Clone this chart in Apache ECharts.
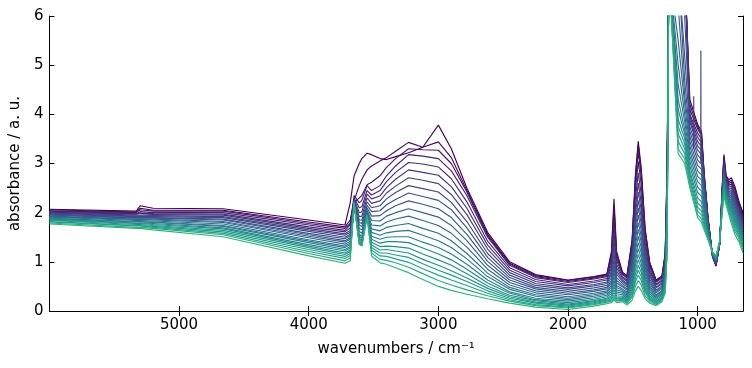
<!DOCTYPE html>
<html><head><meta charset="utf-8">
<script src="https://cdn.jsdelivr.net/npm/echarts@6/dist/echarts.min.js"></script>
<style>html,body{margin:0;padding:0;background:#fff}#c{width:752px;height:368px}</style>
</head><body><div id="c"></div>
<script>
const wavenumbers = [6000,5330,5300,5200,4660,4000,3720,
 3680,3650,3610,3590,3550,3515,3450,3400,3330,3230,3120,3000,2900,2780,2620,2450,2250,2000,
 1800,1700,1665,1645,1625,1580,1545,1505,1480,1458,1435,1405,1370,1320,1275,1250,1235,1222,
 1150,1100,1060,1000,970,950,920,885,858,830,810,797,780,758,740,712,680,650];

const absorbance = [
[2.07,2.03,2.14,2.09,2.08,1.85,1.75, 2.2,2.75,3.0,3.1,3.21,3.18,3.10,3.08,3.14,3.22,3.33,3.78,3.3,2.5,1.6,1.0,.74,.63, .70,.75,1.21,2.28,1.21,.79,.72,1.46,2.77,3.45,2.90,1.68,.99,.63,.71,1.18,3.0,7, 7,7,4.3,3.8,3.65,2.8,1.9,1.10,.91,1.35,2.55,3.18,2.75,2.67,2.71,2.53,2.22,2.0],
[2.06,2.01,2.09,2.05,2.05,1.81,1.71, 1.85,2.25,2.55,2.68,2.87,2.95,3.05,3.12,3.25,3.43,3.33,3.44,3.12,2.45,1.56,.97,.72,.62, .69,.74,1.16,2.14,1.16,.78,.71,1.43,2.71,3.38,2.85,1.64,.98,.62,.70,1.16,2.91,7, 7,7,4.2,3.75,3.6,2.8,1.9,1.11,.92,1.35,2.52,3.14,2.72,2.63,2.66,2.48,2.18,1.96],
[2.04,2.00,2.06,2.03,2.03,1.78,1.68, 1.78,2.2,2.3,2.35,2.57,2.62,2.75,2.92,3.1,3.3,3.28,3.27,3.0,2.42,1.53,.95,.70,.60, .67,.72,1.09,1.96,1.09,.76,.69,1.38,2.60,3.24,2.73,1.58,.95,.61,.69,1.13,2.83,7, 7,7,4.1,3.7,3.56,2.78,1.89,1.11,.93,1.36,2.50,3.10,2.69,2.60,2.62,2.44,2.14,1.92],
[2.03,1.98,2.02,2.00,2.00,1.75,1.64, 1.75,2.35,2.2,2.25,2.55,2.45,2.55,2.75,2.95,3.18,3.15,3.10,2.85,2.35,1.50,.93,.68,.58, .65,.70,1.03,1.79,1.03,.74,.67,1.31,2.45,3.04,2.57,1.50,.91,.59,.67,1.10,2.75,7, 7,7,4.0,3.62,3.49,2.74,1.88,1.11,.94,1.36,2.47,3.06,2.67,2.57,2.58,2.39,2.11,1.89],
[2.01,1.97,1.99,1.98,1.97,1.71,1.61, 1.69,2.3,2.1,2.12,2.45,2.36,2.45,2.63,2.82,3.02,2.99,2.93,2.69,2.22,1.42,.88,.64,.54, .61,.66,.95,1.62,.95,.70,.63,1.22,2.27,2.81,2.37,1.39,.85,.55,.63,1.04,2.67,7, 7,7,3.95,3.54,3.42,2.7,1.86,1.12,.95,1.36,2.45,3.02,2.64,2.54,2.54,2.35,2.07,1.85],
[2.00,1.95,1.95,1.96,1.95,1.68,1.57, 1.64,2.28,2.0,2.02,2.38,2.28,2.34,2.51,2.68,2.87,2.82,2.76,2.53,2.09,1.34,.83,.60,.51, .58,.63,.88,1.46,.88,.67,.60,1.14,2.10,2.6,2.20,1.30,.80,.53,.61,1.01,2.59,7, 7,7,3.9,3.45,3.34,2.65,1.84,1.12,.96,1.37,2.42,2.98,2.61,2.50,2.50,2.30,2.03,1.81],
[1.99,1.93,1.93,1.94,1.92,1.65,1.54, 1.60,2.25,1.92,1.93,2.3,2.19,2.24,2.40,2.54,2.71,2.66,2.59,2.37,1.96,1.26,.78,.56,.47, .54,.59,.81,1.32,.81,.63,.56,1.06,1.96,2.42,2.05,1.21,.75,.49,.57,.96,2.51,7, 7,7,3.85,3.36,3.26,2.6,1.82,1.13,.97,1.37,2.40,2.95,2.59,2.47,2.45,2.26,1.99,1.77],
[1.97,1.92,1.92,1.92,1.90,1.62,1.50, 1.56,2.22,1.85,1.85,2.22,2.10,2.14,2.28,2.41,2.55,2.49,2.42,2.21,1.82,1.17,.73,.52,.44, .51,.56,.75,1.18,.75,.60,.53,.99,1.82,2.25,1.91,1.13,.70,.47,.55,.92,2.42,7, 7,6,3.75,3.27,3.18,2.55,1.80,1.13,.98,1.37,2.37,2.91,2.56,2.44,2.41,2.22,1.96,1.74],
[1.96,1.90,1.90,1.90,1.87,1.58,1.47, 1.53,2.2,1.8,1.78,2.15,2.02,2.04,2.16,2.27,2.40,2.33,2.25,2.06,1.69,1.09,.68,.48,.40, .47,.52,.68,1.05,.68,.56,.49,.92,1.70,2.1,1.78,1.05,.65,.43,.51,.87,2.34,7, 7,5.2,3.65,3.17,3.08,2.5,1.77,1.14,.99,1.38,2.35,2.87,2.53,2.41,2.37,2.17,1.92,1.70],
[1.95,1.89,1.89,1.89,1.85,1.55,1.43, 1.49,2.18,1.75,1.72,2.1,1.93,1.94,2.04,2.14,2.24,2.17,2.08,1.90,1.56,1.01,.63,.45,.36, .43,.48,.62,.95,.62,.52,.45,.86,1.58,1.95,1.65,.98,.60,.40,.48,.83,2.26,7, 7,4.7,3.55,3.07,2.98,2.44,1.74,1.14,1.0,1.38,2.32,2.83,2.50,2.37,2.33,2.13,1.88,1.66],
[1.93,1.87,1.87,1.87,1.82,1.52,1.40, 1.46,2.16,1.68,1.65,2.05,1.84,1.83,1.93,2.00,2.08,2.00,1.91,1.74,1.43,.93,.58,.41,.33, .40,.45,.57,.86,.57,.49,.42,.79,1.46,1.8,1.52,.90,.56,.37,.45,.78,2.18,7, 6.2,4.4,3.45,2.96,2.88,2.38,1.71,1.15,1.01,1.38,2.30,2.79,2.48,2.34,2.29,2.08,1.85,1.63],
[1.92,1.86,1.86,1.85,1.80,1.49,1.36, 1.42,2.15,1.62,1.58,2.02,1.75,1.73,1.81,1.87,1.93,1.84,1.74,1.58,1.30,.85,.53,.37,.29, .36,.41,.52,.78,.52,.45,.38,.73,1.34,1.66,1.40,.83,.51,.33,.41,.73,2.10,7, 5.5,4.2,3.35,2.85,2.77,2.31,1.68,1.15,1.02,1.39,2.28,2.76,2.45,2.31,2.24,2.04,1.81,1.59],
[1.91,1.84,1.84,1.83,1.77,1.45,1.32, 1.38,2.14,1.56,1.52,2.0,1.67,1.63,1.70,1.74,1.78,1.68,1.58,1.43,1.17,.77,.48,.33,.26, .33,.38,.48,.70,.48,.42,.35,.67,1.23,1.52,1.29,.76,.47,.31,.39,.70,2.02,7, 5.0,4.0,3.25,2.74,2.66,2.24,1.65,1.15,1.03,1.39,2.25,2.72,2.42,2.28,2.20,2.00,1.77,1.55],
[1.89,1.82,1.82,1.81,1.74,1.42,1.29, 1.35,2.14,1.52,1.48,1.98,1.60,1.54,1.59,1.62,1.64,1.54,1.43,1.29,1.06,.70,.44,.30,.23, .30,.35,.43,.62,.43,.39,.32,.61,1.12,1.39,1.18,.69,.43,.28,.36,.65,1.94,7, 4.6,3.85,3.15,2.63,2.55,2.17,1.62,1.16,1.04,1.39,2.23,2.68,2.40,2.25,2.16,1.95,1.74,1.52],
[1.88,1.81,1.81,1.80,1.72,1.39,1.25, 1.31,2.15,1.48,1.44,1.97,1.52,1.46,1.50,1.51,1.51,1.40,1.29,1.16,.95,.63,.39,.26,.20, .27,.32,.39,.55,.39,.36,.29,.55,1.03,1.27,1.07,.63,.39,.26,.34,.62,1.86,7, 4.3,3.7,3.05,2.52,2.44,2.10,1.59,1.16,1.05,1.39,2.20,2.64,2.37,2.21,2.12,1.91,1.70,1.48],
[1.87,1.79,1.79,1.78,1.69,1.35,1.22, 1.28,2.16,1.45,1.41,1.96,1.46,1.38,1.41,1.41,1.39,1.28,1.16,1.04,.85,.57,.36,.23,.17, .24,.29,.35,.49,.35,.33,.26,.50,.93,1.15,.97,.57,.35,.23,.31,.58,1.78,7, 4.1,3.6,2.95,2.41,2.33,2.03,1.56,1.17,1.06,1.40,2.18,2.60,2.34,2.18,2.08,1.86,1.66,1.44],
[1.85,1.78,1.78,1.76,1.67,1.32,1.18, 1.24,2.17,1.42,1.38,1.95,1.40,1.31,1.32,1.31,1.28,1.16,1.04,.93,.76,.51,.32,.21,.14, .21,.26,.31,.43,.31,.30,.23,.45,.84,1.04,.88,.51,.31,.20,.28,.53,1.70,7, 3.9,3.5,2.85,2.30,2.22,1.96,1.54,1.17,1.07,1.40,2.15,2.56,2.31,2.15,2.04,1.82,1.63,1.41],
[1.84,1.76,1.76,1.74,1.64,1.29,1.15, 1.21,2.18,1.40,1.36,1.95,1.34,1.24,1.25,1.22,1.18,1.05,.93,.82,.67,.46,.29,.18,.12, .19,.24,.28,.37,.28,.28,.21,.40,.75,.93,.79,.46,.28,.18,.26,.50,1.61,7, 3.75,3.4,2.78,2.20,2.12,1.89,1.52,1.18,1.08,1.40,2.13,2.53,2.29,2.12,1.99,1.78,1.59,1.37],
[1.82,1.74,1.74,1.72,1.61,1.25,1.11, 1.17,2.19,1.38,1.35,1.94,1.29,1.18,1.18,1.14,1.09,.96,.83,.73,.60,.41,.26,.16,.10, .17,.22,.25,.32,.25,.26,.19,.36,.67,.83,.70,.41,.25,.17,.25,.47,1.52,7, 3.6,3.3,2.7,2.11,2.03,1.82,1.50,1.18,1.09,1.41,2.10,2.48,2.26,2.08,1.95,1.73,1.55,1.33],
[1.81,1.73,1.73,1.70,1.58,1.21,1.07, 1.13,2.2,1.37,1.34,1.94,1.24,1.12,1.11,1.06,.99,.86,.73,.63,.52,.36,.23,.13,.08, .15,.20,.22,.28,.22,.24,.17,.32,.59,.73,.62,.37,.23,.15,.23,.44,1.43,7, 3.45,3.2,2.64,2.03,1.95,1.76,1.48,1.19,1.10,1.41,2.07,2.44,2.23,2.04,1.90,1.68,1.51,1.29],
[1.79,1.70,1.70,1.68,1.55,1.17,1.02, 1.08,2.21,1.36,1.33,1.93,1.18,1.05,1.03,.98,.89,.76,.62,.53,.43,.31,.20,.11,.06, .13,.18,.20,.25,.20,.22,.15,.28,.50,.62,.53,.31,.20,.13,.21,.40,1.33,7, 3.3,3.1,2.57,1.96,1.87,1.70,1.46,1.19,1.11,1.42,2.04,2.39,2.19,2.0,1.85,1.62,1.46,1.24],
[1.77,1.68,1.68,1.65,1.51,1.12,.97, 1.02,2.22,1.35,1.32,1.93,1.12,.98,.95,.88,.78,.64,.50,.42,.34,.25,.16,.08,.03, .10,.15,.17,.22,.17,.19,.12,.22,.41,.50,.42,.25,.16,.11,.19,.36,1.2,7, 3.2,3.0,2.5,1.9,1.8,1.65,1.45,1.20,1.12,1.42,2.0,2.33,2.15,1.95,1.78,1.55,1.40,1.18]
];

const spikeWn1 = [1031,1030,1029], spikeVal1 = [3.3,4.37,3.3];
const spikeWn2 = [976,975,974], spikeVal2 = [3.0,5.3,3.0];
const riseWn = [1236,1231], riseVal = [1.0,7];
const xTicks = [5000,4000,3000,2000,1000];

const viridis = ['#440154','#482475','#414487','#355f8d','#2a788e','#21918c','#22a884','#44bf70','#7ad151','#bddf26','#fde725'];
function hex(c){return [parseInt(c.slice(1,3),16),parseInt(c.slice(3,5),16),parseInt(c.slice(5,7),16)];}
function cmap(t){
  const p=t*10, i=Math.min(9,Math.floor(p)), f=p-i;
  const a=hex(viridis[i]), b=hex(viridis[i+1]);
  return 'rgb('+a.map((v,j)=>Math.round(v+(b[j]-v)*f)).join(',')+')';
}
const N = absorbance.length;
function lineSeries(data,color){
  return {type:'line',showSymbol:false,silent:true,animation:false,data:data,
    lineStyle:{width:1.15,color:color}};
}
const series = [lineSeries(riseWn.map((w,i)=>[w,riseVal[i]]),cmap(0.8))];
absorbance.forEach((row,k)=>{
  series.push(lineSeries(row.map((v,i)=>[wavenumbers[i],v]), cmap(0.64*k/(N-1))));
  if(k===8){
    series.push(lineSeries(spikeWn1.map((w,i)=>[w,spikeVal1[i]]),cmap(0.2)));
    series.push(lineSeries(spikeWn2.map((w,i)=>[w,spikeVal2[i]]),cmap(0.22)));
  }
});

const font = 'DejaVu Sans';
const axisCommon = {
  min:650,max:6000,inverse:true,
  axisLine:{lineStyle:{color:'#000',width:1}},
  splitLine:{show:false}
};
const chart = echarts.init(document.getElementById('c'),null,{renderer:'canvas'});
chart.setOption({
  backgroundColor:'#fff',
  animation:false,
  grid:{left:49,right:9,top:16,bottom:57},
  xAxis:[
    Object.assign({type:'value',position:'bottom',
      name:'wavenumbers / cm\u207B\u00B9',nameLocation:'middle',nameGap:31,
      nameTextStyle:{fontFamily:font,fontSize:15,color:'#000'},
      axisTick:{inside:true,length:5,customValues:xTicks,lineStyle:{color:'#000'}},
      axisLabel:{customValues:xTicks,fontFamily:font,fontSize:15,color:'#000',margin:7,
        formatter:v=>String(v)}},axisCommon),
    Object.assign({type:'value',position:'top',
      axisTick:{inside:true,length:5,customValues:xTicks,lineStyle:{color:'#000'}},
      axisLabel:{show:false}},axisCommon)
  ],
  yAxis:[
    {type:'value',min:0,max:6,interval:1,position:'left',
     name:'absorbance / a. u.',nameLocation:'middle',nameGap:24,
     nameTextStyle:{fontFamily:font,fontSize:15,color:'#000'},
     axisLine:{show:true,lineStyle:{color:'#000'}},
     axisTick:{show:true,inside:true,length:5,lineStyle:{color:'#000'}},
     axisLabel:{fontFamily:font,fontSize:15,color:'#000',margin:6},
     splitLine:{show:false}},
    {type:'value',min:0,max:6,interval:1,position:'right',
     axisLine:{show:true,lineStyle:{color:'#000'}},
     axisTick:{show:true,inside:true,length:5,lineStyle:{color:'#000'}},
     axisLabel:{show:false},splitLine:{show:false}}
  ],
  series:series
});
</script></body></html>
